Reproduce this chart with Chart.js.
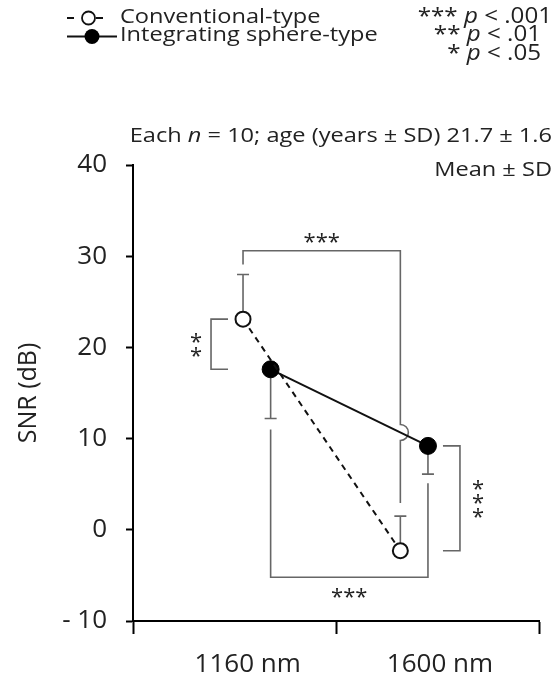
<!DOCTYPE html>
<html>
<head>
<meta charset="utf-8">
<script src="https://cdn.jsdelivr.net/npm/chart.js@4.4.1/dist/chart.umd.min.js"></script>
<style>
  html, body { margin: 0; padding: 0; background: #fff; }
  #wrap { width: 554px; height: 677px; }
</style>
</head>
<body>
<div id="wrap"><canvas id="snrChart" width="554" height="677"></canvas></div>
<script>
// values
const categories = ['1160 nm', '1600 nm'];
const conventionalMean = [23.1, -2.3];
const conventionalSD = [4.9, 3.8];
const sphereMean = [17.6, 9.2];
const sphereSD = [5.4, 3.1];
const yTicks = [-10, 0, 10, 20, 30, 40];
const seriesNames = ['Conventional-type', 'Integrating sphere-type'];

// layout on the x scale (0..2, one unit per wavelength block)
const categoryX = [0.61, 1.385];
const pairOffset = 0.068;
const labelX = [0.565, 1.512];
const xTickMarks = [0, 1, 2];

const FONT = '"Open Sans", "Noto Sans", sans-serif';
const TEXT = '#222';
const GREY = '#666';
const STRETCH = 1.15;

const convX = categoryX.map(x => x - pairOffset);
const sphX = categoryX.map(x => x + pairOffset);

// text with italic runs, slightly widened like the original artwork
function richText(ctx, parts, x, y, size, align) {
    let total = 0;
    const w = parts.map(p => {
        ctx.font = (p.i ? 'italic ' : '') + size + 'px ' + FONT;
        const m = ctx.measureText(p.t).width;
        total += m;
        return m;
    });
    const start = align === 'right' ? x - total * STRETCH : x;
    ctx.save();
    ctx.translate(start, y);
    ctx.scale(STRETCH, 1);
    ctx.textAlign = 'left';
    ctx.textBaseline = 'middle';
    let cx = 0;
    parts.forEach((p, k) => {
        ctx.font = (p.i ? 'italic ' : '') + size + 'px ' + FONT;
        ctx.fillText(p.t, cx, 0);
        cx += w[k];
    });
    ctx.restore();
}

function star(ctx, s, x, y) {
    ctx.font = '22px ' + FONT;
    ctx.textAlign = 'center';
    ctx.textBaseline = 'alphabetic';
    ctx.fillText(s, x, y + 12);
}

const annotations = {
    id: 'annotations',
    beforeDatasetsDraw(chart) {
        const ctx = chart.ctx;
        const xs = chart.scales.x, ys = chart.scales.y;
        const px = v => xs.getPixelForValue(v);
        const py = v => ys.getPixelForValue(v);
        ctx.save();
        ctx.strokeStyle = GREY;
        ctx.fillStyle = TEXT;
        ctx.lineWidth = 1.6;

        // error bars: conventional upwards, integrating sphere downwards
        for (let i = 0; i < categories.length; i++) {
            const a = px(convX[i]), top = py(conventionalMean[i] + conventionalSD[i]);
            ctx.beginPath();
            ctx.moveTo(a, py(conventionalMean[i])); ctx.lineTo(a, top);
            ctx.moveTo(a - 6, top); ctx.lineTo(a + 6, top);
            ctx.stroke();
            const b = px(sphX[i]), bot = py(sphereMean[i] - sphereSD[i]);
            ctx.beginPath();
            ctx.moveTo(b, py(sphereMean[i])); ctx.lineTo(b, bot);
            ctx.moveTo(b - 6, bot); ctx.lineTo(b + 6, bot);
            ctx.stroke();
        }

        // top bracket: conventional 1160 vs 1600, hop over the solid line
        const tl = px(convX[0]), tr = px(convX[1]), ty = py(30.6);
        const rightEnd = py(conventionalMean[1] + conventionalSD[1]) - 13;
        const s0 = { x: px(sphX[0]), y: py(sphereMean[0]) };
        const s1 = { x: px(sphX[1]), y: py(sphereMean[1]) };
        const crossY = s0.y + (tr - s0.x) * (s1.y - s0.y) / (s1.x - s0.x);
        const r = 8;
        ctx.beginPath();
        ctx.moveTo(tl, py(conventionalMean[0] + conventionalSD[0]) - 10);
        ctx.lineTo(tl, ty);
        ctx.lineTo(tr, ty);
        ctx.lineTo(tr, crossY - r);
        ctx.arc(tr, crossY, r, -Math.PI / 2, Math.PI / 2, false);
        ctx.lineTo(tr, rightEnd);
        ctx.stroke();
        star(ctx, '***', (tl + tr) / 2, ty - 14);

        // bottom bracket: integrating sphere 1160 vs 1600
        const bl = px(sphX[0]), br = px(sphX[1]), by = py(-5.2);
        ctx.beginPath();
        ctx.moveTo(bl, py(sphereMean[0] - sphereSD[0]) + 11);
        ctx.lineTo(bl, by);
        ctx.lineTo(br, by);
        ctx.lineTo(br, py(sphereMean[1] - sphereSD[1]) + 9);
        ctx.stroke();
        star(ctx, '***', (bl + br) / 2, by + 15);

        // left bracket at 1160: conventional vs sphere
        const lx = px(convX[0]) - 32, la = py(conventionalMean[0]), lb = py(sphereMean[0]);
        ctx.beginPath();
        ctx.moveTo(lx + 17, la); ctx.lineTo(lx, la); ctx.lineTo(lx, lb); ctx.lineTo(lx + 17, lb);
        ctx.stroke();
        star(ctx, '*', lx - 15, (la + lb) / 2 - 7);
        star(ctx, '*', lx - 15, (la + lb) / 2 + 7);

        // right bracket at 1600: sphere vs conventional
        const rx = px(sphX[1]) + 32, ra = py(sphereMean[1]), rb = py(conventionalMean[1]);
        ctx.beginPath();
        ctx.moveTo(rx - 17, ra); ctx.lineTo(rx, ra); ctx.lineTo(rx, rb); ctx.lineTo(rx - 17, rb);
        ctx.stroke();
        [-14, 0, 14].forEach(d => star(ctx, '*', rx + 18, (ra + rb) / 2 + d));
        ctx.restore();
    },
    afterDraw(chart) {
        const ctx = chart.ctx;
        ctx.save();
        ctx.fillStyle = TEXT;
        ctx.strokeStyle = '#111';

        // legend
        ctx.lineWidth = 1.8;
        ctx.beginPath();
        ctx.moveTo(67, 18); ctx.lineTo(74, 18);
        ctx.moveTo(96, 18); ctx.lineTo(103, 18);
        ctx.stroke();
        ctx.beginPath();
        ctx.arc(88.5, 18, 6.5, 0, Math.PI * 2);
        ctx.fillStyle = '#fff'; ctx.fill(); ctx.stroke();
        ctx.beginPath();
        ctx.moveTo(67, 36.5); ctx.lineTo(117, 36.5);
        ctx.stroke();
        ctx.beginPath();
        ctx.arc(92, 36.5, 7.5, 0, Math.PI * 2);
        ctx.fillStyle = '#000'; ctx.fill();
        ctx.fillStyle = TEXT;
        richText(ctx, [{ t: seriesNames[0] }], 120, 17, 20.5, 'left');
        richText(ctx, [{ t: seriesNames[1] }], 120, 35.5, 20.5, 'left');

        // significance key
        richText(ctx, [{ t: '*** ' }, { t: 'p', i: true }, { t: ' < .001' }], 552, 17, 21, 'right');
        richText(ctx, [{ t: '** ' }, { t: 'p', i: true }, { t: ' < .01' }], 541, 35.5, 21, 'right');
        richText(ctx, [{ t: '* ' }, { t: 'p', i: true }, { t: ' < .05' }], 541, 54, 21, 'right');

        // sample note
        richText(ctx, [{ t: 'Each ' }, { t: 'n', i: true }, { t: ' = 10; age (years \u00b1 SD) 21.7 \u00b1 1.6' }], 552, 136, 20.5, 'right');
        richText(ctx, [{ t: 'Mean \u00b1 SD' }], 552, 170, 20.5, 'right');
        ctx.restore();
    }
};

const ctx = document.getElementById('snrChart').getContext('2d');
const chart = new Chart(ctx, {
    type: 'scatter',
    data: {
        datasets: [{
            label: seriesNames[0],
            data: categories.map((c, i) => ({ x: convX[i], y: conventionalMean[i] })),
            showLine: true,
            borderColor: '#111',
            borderWidth: 2,
            borderDash: [6, 5],
            pointRadius: 7.5,
            pointBorderWidth: 2,
            pointBorderColor: '#111',
            pointBackgroundColor: '#fff'
        }, {
            label: seriesNames[1],
            data: categories.map((c, i) => ({ x: sphX[i], y: sphereMean[i] })),
            showLine: true,
            borderColor: '#111',
            borderWidth: 2,
            pointRadius: 8.5,
            pointBorderWidth: 1,
            pointBorderColor: '#000',
            pointBackgroundColor: '#000'
        }]
    },
    options: {
        responsive: false,
        animation: false,
        layout: { padding: { left: 0, right: 7, top: 165, bottom: 0 } },
        plugins: { legend: { display: false }, tooltip: { enabled: false } },
        scales: {
            x: {
                type: 'linear',
                min: 0,
                max: 2,
                afterBuildTicks: scale => {
                    scale.ticks = [...xTickMarks, ...labelX].sort((a, b) => a - b).map(v => ({ value: v }));
                },
                afterFit: scale => { scale.height = 56; },
                ticks: {
                    autoSkip: false,
                    maxRotation: 0,
                    padding: 15,
                    color: TEXT,
                    font: { family: FONT, size: 26 },
                    callback: value => {
                        const k = labelX.indexOf(value);
                        return k >= 0 ? categories[k] : '';
                    }
                },
                grid: {
                    drawOnChartArea: false,
                    tickLength: 13,
                    tickWidth: 2,
                    tickColor: c => (c.tick && labelX.includes(c.tick.value)) ? 'rgba(0,0,0,0)' : '#000'
                },
                border: { color: '#000', width: 2 }
            },
            y: {
                min: -10,
                max: 40,
                afterBuildTicks: scale => {
                    scale.ticks = yTicks.map(v => ({ value: v }));
                },
                afterFit: scale => { scale.width = 133; },
                ticks: {
                    padding: 19,
                    color: TEXT,
                    font: { family: FONT, size: 26 },
                    callback: v => v < 0 ? '- ' + Math.abs(v) : String(v)
                },
                grid: {
                    drawOnChartArea: false,
                    tickLength: 7,
                    tickWidth: 2,
                    tickColor: '#000'
                },
                border: { color: '#000', width: 2 },
                title: {
                    display: true,
                    text: 'SNR (dB)',
                    color: TEXT,
                    font: { family: FONT, size: 25 },
                    padding: { top: 14, bottom: 0 }
                }
            }
        }
    },
    plugins: [annotations]
});
</script>
</body>
</html>
